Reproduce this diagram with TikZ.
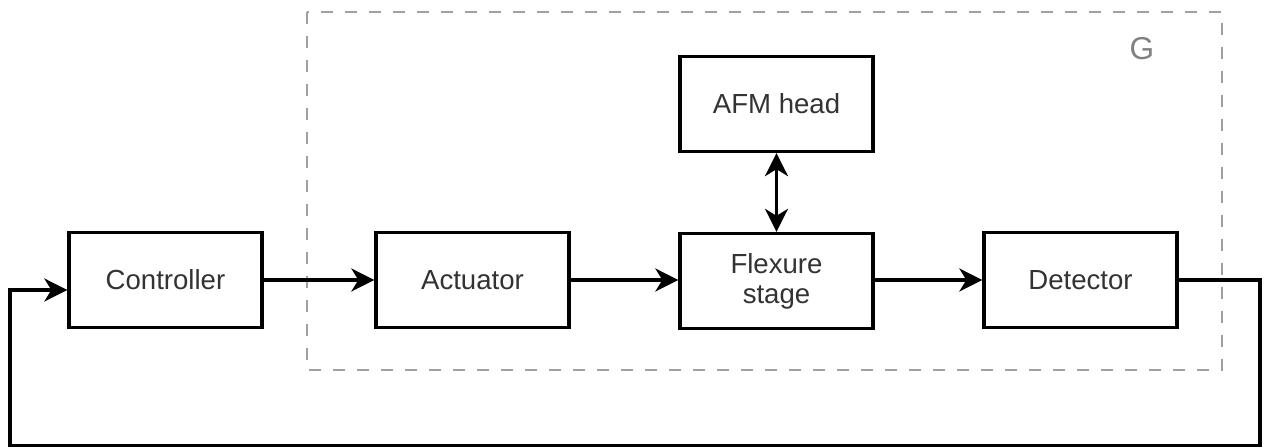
\documentclass[tikz,border=0pt]{standalone}
\usepackage{fontspec}
\setmainfont{Liberation Sans}
\usetikzlibrary{arrows.meta,positioning,calc}
\definecolor{blkText}{HTML}{333333}
\definecolor{gLine}{HTML}{A0A0A0}
\definecolor{gText}{HTML}{808080}
\tikzset{
  blkNode/.style={draw=black, line width=1.9pt, fill=white,
    minimum width=3.86cm, minimum height=1.9cm,
    font=\fontsize{15.7}{17}\selectfont, align=center, text=blkText},
  %% Signal arrows
  sigArrow/.style={-{Stealth[length=0.46cm, width=0.46cm, inset=0.14cm]}, line width=1.9pt},
  sigBoth/.style={{Stealth[length=0.46cm, width=0.46cm, inset=0.14cm]}-{Stealth[length=0.46cm, width=0.46cm, inset=0.14cm]}, line width=1.9pt},
  %% Plant boundary
  plantBox/.style={draw=gLine, line width=1.2pt, dash pattern=on 0.24cm off 0.24cm},
  plantLabel/.style={font=\fontsize{18}{20}\selectfont, text=gText},
}
\begin{document}
\begin{tikzpicture}[x=1cm, y=1cm]
\useasboundingbox (0,0) rectangle (25.28,-8.96);

%% Plant G
\coordinate (gNW) at (6.14,-0.24);
\coordinate (gSE) at (24.44,-7.40);
\draw[plantBox] (gNW) rectangle (gSE);
\node[plantLabel] (gLabel) at (22.84,-0.98) {G};

%% Blocks
\node[blkNode] (ctrl)  at ( 3.31,-5.60) {Controller};
\node[blkNode] (act)   at ( 9.45,-5.60) {Actuator};
\node[blkNode] (flex)  at (15.53,-5.62) {Flexure\\stage};
\node[blkNode] (afm)   at (15.53,-2.08) {AFM head};
\node[blkNode] (det)   at (21.61,-5.60) {Detector};

%% Forward path
\draw[sigArrow] (ctrl) -- (act);
\draw[sigArrow] (act) -- (act -| flex.west);
\draw[sigArrow] (flex.east |- det) -- (det);
\draw[sigBoth] (afm) -- (flex);

%% Feedback
\coordinate (fbR) at (25.20,-8.91);
\coordinate (fbL) at (0.20,-8.91);
\coordinate (ctrlIn) at ($(ctrl.west)+(0,-0.2)$);
\draw[sigArrow, line join=miter] (det.east) -| (fbR) -- (fbL) |- (ctrlIn);

\end{tikzpicture}
\end{document}
